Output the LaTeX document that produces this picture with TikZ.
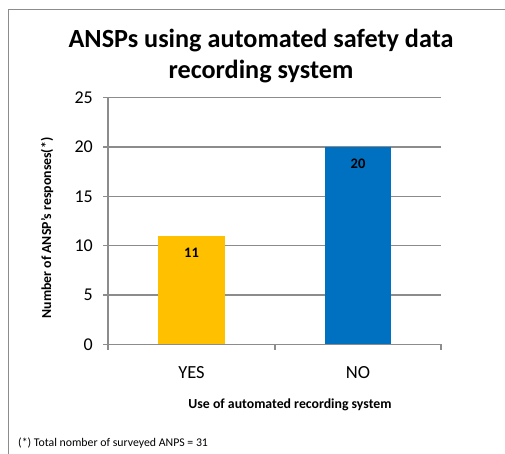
\documentclass[tikz,border=0pt]{standalone}
\usepackage{fontspec}
\setmainfont{Carlito}
\definecolor{gridc}{HTML}{8C8C8C}
\definecolor{yesc}{HTML}{FFC000}
\definecolor{noc}{HTML}{0070C0}
\definecolor{framec}{HTML}{8C8C8C}
\begin{document}
\begin{tikzpicture}[x=1pt,y=-1pt,
  grid/.style={draw=gridc,line width=1.1pt},
  axisline/.style={draw=gridc,line width=1.1pt},
  ticklbl/.style={anchor=east,inner sep=0pt,font=\fontsize{18}{20}\selectfont},
  catlbl/.style={inner sep=0pt,font=\fontsize{18.5}{21}\selectfont},
  vallbl/.style={inner sep=0pt,font=\bfseries\fontsize{14.5}{16}\selectfont},
  axtitle/.style={inner sep=0pt,font=\bfseries\fontsize{13.8}{16}\selectfont},
  ]
\useasboundingbox (0,0) rectangle (505,454);
% frame (open to the right and bottom)
\draw[framec,line width=1pt] (8,454) -- (8,10) -- (505,10);
% title
\node[align=center,font=\bfseries\fontsize{26.2}{31}\selectfont,inner sep=0pt] (title) at (261,56) {ANSPs using automated safety data\\recording system};
% gridlines
\foreach \v/\yy in {5/295.0,10/245.7,15/196.4,20/147.0,25/97.7}{
  \draw[grid] (103,\yy) -- (441,\yy);
}
% bars
\fill[yesc] (158.3,344.3) rectangle (224.7,235.7);
\fill[noc] (325,344.3) rectangle (391.3,147.0);
% axes
\draw[axisline] (108,97.7) -- (108,350);
\draw[axisline] (103,344.3) -- (441,344.3);
\draw[axisline] (275,344.3) -- (275,350);
\draw[axisline] (441,344.3) -- (441,350);
% y tick labels
\foreach \v/\yy in {0/344.3,5/295.0,10/245.7,15/196.4,20/147.0,25/97.7}{
  \node[ticklbl] (t\v) at (93,\yy) {\v};
}
% value labels
\node[vallbl] (v11) at (191.5,253) {11};
\node[vallbl] (v20) at (358,163.5) {20};
% category labels
\node[catlbl] (yes) at (191.5,373) {YES};
\node[catlbl] (no) at (358,373) {NO};
% axis titles
\node[axtitle] (xt) at (290,405) {Use of automated recording system};
\node[axtitle,rotate=90] (yt) at (47,228) {Number of ANSP's responses(*)};
% footnote
\node[anchor=west,inner sep=0pt,font=\fontsize{11.8}{14}\selectfont] (fn) at (18,443) {(*) Total nomber of surveyed ANPS = 31};
\end{tikzpicture}
\end{document}
